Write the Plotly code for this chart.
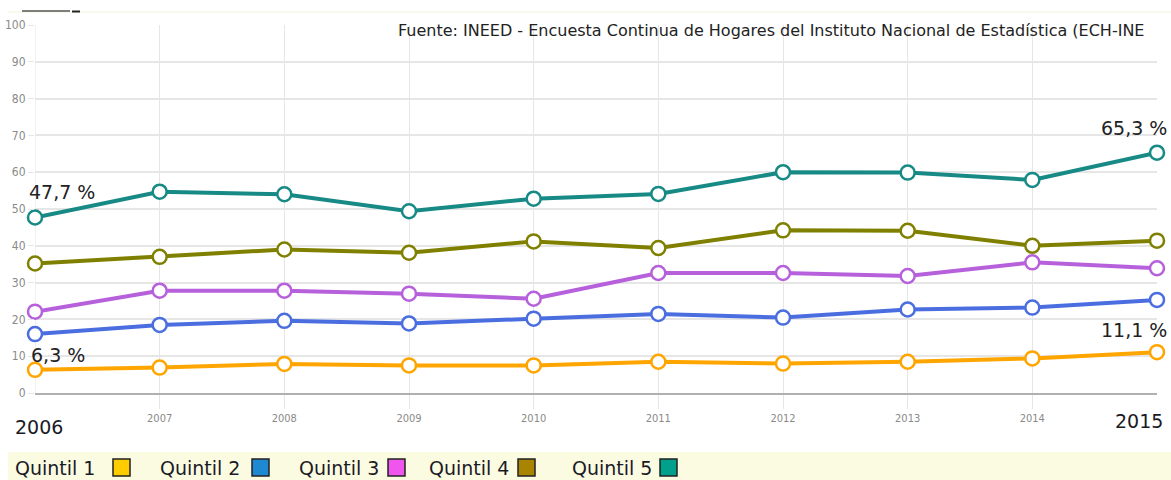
import plotly.graph_objects as go

years = [2006, 2007, 2008, 2009, 2010, 2011, 2012, 2013, 2014, 2015]
quintil_1 = [6.3, 6.9, 7.9, 7.5, 7.5, 8.5, 8.0, 8.5, 9.4, 11.1]
quintil_2 = [16.0, 18.5, 19.6, 18.9, 20.2, 21.5, 20.5, 22.7, 23.2, 25.3]
quintil_3 = [22.1, 27.8, 27.8, 27.0, 25.6, 32.6, 32.6, 31.8, 35.5, 33.9]
quintil_4 = [35.2, 37.0, 39.0, 38.1, 41.2, 39.4, 44.2, 44.1, 40.0, 41.4]
quintil_5 = [47.7, 54.7, 54.0, 49.4, 52.8, 54.1, 60.0, 59.9, 57.9, 65.3]

series_names = ["Quintil 1", "Quintil 2", "Quintil 3", "Quintil 4", "Quintil 5"]
series_values = [quintil_1, quintil_2, quintil_3, quintil_4, quintil_5]
line_colors = ["#ffa500", "#4a6ee0", "#b760dc", "#808000", "#188a86"]
legend_box_colors = ["#ffcc00", "#1e88d0", "#f055ee", "#a88400", "#00a08c"]
y_ticks = [0, 10, 20, 30, 40, 50, 60, 70, 80, 90, 100]
x_small_ticks = [2007, 2008, 2009, 2010, 2011, 2012, 2013, 2014]
source_text = "Fuente: INEED - Encuesta Continua de Hogares del Instituto Nacional de Estadística (ECH-INE"

W, H = 1171, 480
L, R, T, B = 35, 14, 25, 87
PW, PH = W - L - R, H - T - B


def px(xp):
    return (xp - L) / PW


def py(yp):
    return (H - B - yp) / PH


fig = go.Figure()
for name, vals, col in zip(series_names, series_values, line_colors):
    fig.add_trace(go.Scatter(
        x=years, y=vals, name=name, mode="lines+markers",
        line=dict(color=col, width=4),
        marker=dict(size=14, color="white", line=dict(color=col, width=2.5)),
        cliponaxis=False, showlegend=False,
    ))

label_font = dict(family="DejaVu Sans", size=19, color="#222222")
ann = []
ann.append(dict(x=years[0], y=quintil_5[0], xref="x", yref="y", text="47,7 %",
                xanchor="left", yanchor="middle", xshift=-8, yshift=25,
                showarrow=False, font=label_font))
ann.append(dict(x=years[-1], y=quintil_5[-1], xref="x", yref="y", text="65,3 %",
                xanchor="right", yanchor="middle", xshift=12, yshift=25,
                showarrow=False, font=label_font))
ann.append(dict(x=years[0], y=quintil_1[0], xref="x", yref="y", text="6,3 %",
                xanchor="left", yanchor="middle", xshift=-6, yshift=15,
                showarrow=False, font=label_font))
ann.append(dict(x=years[-1], y=quintil_1[-1], xref="x", yref="y", text="11,1 %",
                xanchor="right", yanchor="middle", xshift=12, yshift=22,
                showarrow=False, font=label_font))

# big end-year labels
ann.append(dict(x=px(39), y=py(427), xref="paper", yref="paper", text=str(years[0]),
                xanchor="center", yanchor="middle", showarrow=False,
                font=dict(family="DejaVu Sans", size=19, color="#1a1a26")))
ann.append(dict(x=px(1139), y=py(421), xref="paper", yref="paper", text=str(years[-1]),
                xanchor="center", yanchor="middle", showarrow=False,
                font=dict(family="DejaVu Sans", size=19, color="#1a1a26")))

# source
ann.append(dict(x=px(1146), y=py(30), xref="paper", yref="paper", text=source_text,
                xanchor="right", yanchor="middle", showarrow=False,
                font=dict(family="DejaVu Sans", size=16, color="#222222")))

shapes = []
# legend background strip
shapes.append(dict(type="rect", xref="paper", yref="paper", x0=px(8), x1=px(1171),
                   y0=py(480), y1=py(452), fillcolor="#fbfbe2", line=dict(width=0), layer="below"))
# faint top line
shapes.append(dict(type="line", xref="paper", yref="paper", x0=px(8), x1=px(1171),
                   y0=py(12), y1=py(12), line=dict(color="#f4f4d8", width=1)))
# cut-off remnant at top-left
shapes.append(dict(type="line", xref="paper", yref="paper", x0=px(22), x1=px(70),
                   y0=py(11), y1=py(11), line=dict(color="#555555", width=1.5)))
shapes.append(dict(type="line", xref="paper", yref="paper", x0=px(72), x1=px(80),
                   y0=py(11.5), y1=py(11.5), line=dict(color="#222222", width=2)))

legend_text_x = [13, 158, 297, 427, 570]
legend_box_x = [113, 252, 388, 518, 660]
for name, tx, bx, col in zip(series_names, legend_text_x, legend_box_x, legend_box_colors):
    ann.append(dict(x=px(tx), y=py(468), xref="paper", yref="paper", text=name,
                    xanchor="left", yanchor="middle", showarrow=False,
                    font=dict(family="DejaVu Sans", size=19, color="#1a1a26")))
    shapes.append(dict(type="rect", xref="paper", yref="paper", x0=px(bx), x1=px(bx + 17),
                       y0=py(476), y1=py(459), fillcolor=col, line=dict(color="#222222", width=1.5)))

fig.update_layout(
    width=W, height=H,
    margin=dict(l=L, r=R, t=T, b=B, autoexpand=False),
    paper_bgcolor="white", plot_bgcolor="white",
    annotations=ann, shapes=shapes,
    xaxis=dict(range=[years[0], years[-1]], tickmode="array", tickvals=x_small_ticks,
               ticktext=[str(v) for v in x_small_ticks],
               showgrid=True, gridcolor="#e6e6e6", gridwidth=1,
               ticks="outside", ticklen=14, tickcolor="#e6e6e6",
               tickfont=dict(family="Liberation Sans Narrow, DejaVu Sans Condensed", size=11, color="#8a8a8a"),
               showline=True, linecolor="#b0b0b0", linewidth=1.5, zeroline=False, fixedrange=True),
    yaxis=dict(range=[0, 100], tickmode="array", tickvals=y_ticks,
               showgrid=True, gridcolor="#e6e6e6", gridwidth=1.5,
               ticks="outside", ticklen=6, tickcolor="#e6e6e6",
               tickfont=dict(family="Liberation Sans Narrow, DejaVu Sans Condensed", size=12, color="#8a8a8a"),
               showline=False, zeroline=False, fixedrange=True),
)
fig.add_shape(type="line", xref="x", yref="paper", x0=years[0], x1=years[0], y0=0, y1=1,
              line=dict(color="#e6e6e6", width=1), layer="below")

fig.write_html("out.html", config={"displayModeBar": False},
               post_script="document.body.style.margin='0';document.body.style.overflow='hidden';")
